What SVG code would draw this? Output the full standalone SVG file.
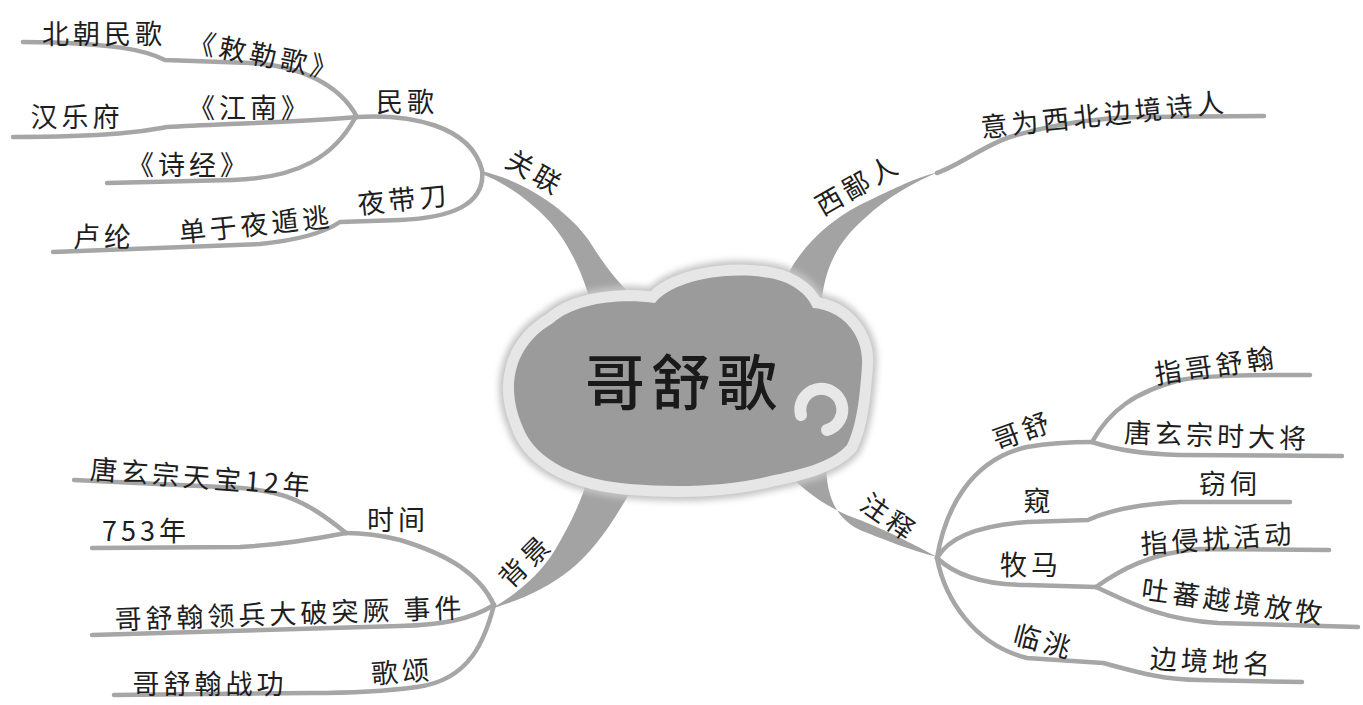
<svg xmlns="http://www.w3.org/2000/svg" width="1363" height="705" viewBox="0 0 1363 705">
<defs>
<style>
.t{font-family:"Noto Sans CJK SC","Noto Sans",sans-serif;font-size:27px;fill:#1e1e1e;letter-spacing:4px;text-anchor:middle;}
.ln{fill:none;stroke:#a6a6a6;stroke-width:4.5;stroke-linecap:round;stroke-linejoin:round;}
.br{fill:#a3a3a3;}
.title{font-family:"Noto Sans CJK SC","Noto Sans",sans-serif;font-size:60px;font-weight:500;fill:#1a1a1a;letter-spacing:6px;text-anchor:middle;}
</style>
<filter id="glow" x="-20%" y="-20%" width="140%" height="140%">
<feGaussianBlur stdDeviation="3"/>
</filter>
<path id="cloud" d="M522,425 C505,385 515,345 553,323 C575,303 620,298 655,303 C670,283 720,270 770,278 C795,283 808,296 813,308 C842,310 864,335 862,365 C860,395 857,425 847,445 C832,462 800,470 770,476 C730,486 680,488 630,484 C580,480 535,462 522,425 Z"/>
</defs>
<rect width="1363" height="705" fill="#ffffff"/>

<g id="connectors">
<path class="br" d="M482,171 C530,183 575,215 595,250 C608,270 620,285 637,300 L590,300 C583,275 570,245 550,222 C530,200 505,183 482,174 Z"/>
<path class="br" d="M780,292 C795,250 830,218 870,200 C895,188 915,178 938,172 C915,182 890,195 865,218 C840,240 827,262 822,297 Z"/>
<path class="br" d="M494,607 C515,595 540,575 555,550 C568,528 580,505 588,478 L638,478 C615,520 595,550 570,570 C548,588 520,600 494,608 Z"/>
<path class="br" d="M778,462 C800,490 830,510 860,520 C890,532 915,545 937,557 C910,550 885,540 860,530 C835,518 826,495 826,462 Z"/>
<path class="ln" d="M357,117 C340,85 300,65 250,63 L165,60 C145,50 115,43 23,42"/>
<path class="ln" d="M357,117 C300,122 220,124 167,127 C150,130 120,137 13,137"/>
<path class="ln" d="M355,118 C335,155 300,178 233,180 L107,183"/>
<path class="ln" d="M357,117 C410,114 470,125 482,170"/>
<path class="ln" d="M482,170 C486,205 450,218 400,220 L340,222 C325,232 300,240 260,244 L53,252"/>
<path class="ln" d="M937,173 C960,165 985,145 1010,137 C1050,125 1090,118 1140,117 L1264,116"/>
<path class="ln" d="M494,605 C480,575 450,555 400,540 C380,535 360,533 346,533"/>
<path class="ln" d="M346,533 C330,520 305,500 274,493 C250,488 230,487 221,487 L74,480"/>
<path class="ln" d="M346,533 C310,540 280,545 240,547 L92,548"/>
<path class="ln" d="M494,605 C470,620 440,625 400,626 L92,635"/>
<path class="ln" d="M494,605 C485,640 470,680 417,687 C380,692 340,693 310,693 L114,695"/>
<path class="ln" d="M937,558 C945,510 970,460 1027,447 C1050,443 1070,442 1092,442"/>
<path class="ln" d="M1092,442 C1110,410 1135,392 1180,380 C1210,375 1250,375 1310,375"/>
<path class="ln" d="M1092,442 C1110,448 1140,454 1180,455 L1342,456"/>
<path class="ln" d="M937,558 C950,535 985,525 1027,522 L1088,520 C1110,510 1140,504 1180,502 L1290,502"/>
<path class="ln" d="M937,558 C955,575 985,585 1027,585 L1096,587"/>
<path class="ln" d="M1096,587 C1120,570 1150,553 1199,549 L1329,550"/>
<path class="ln" d="M1096,587 C1125,600 1160,620 1218,623 L1358,627"/>
<path class="ln" d="M937,558 C945,600 975,645 1027,658 L1103,663 C1130,670 1160,680 1199,680 L1302,682"/>
</g>

<g id="center">
<use href="#cloud" fill="none" stroke="#c4c4c4" stroke-width="30" filter="url(#glow)"/>
<use href="#cloud" fill="#9b9b9b" stroke="#e6e6e6" stroke-width="22"/>
<use href="#cloud" fill="#9b9b9b"/>
<path d="M801,415 A21,21 0 1 1 827,430" fill="none" stroke="#e8e8e8" stroke-width="12" stroke-linecap="round"/>
<circle cx="815" cy="411" r="8" fill="#9b9b9b"/>
<text class="title" x="684" y="405">哥舒歌</text>
</g>

<g id="node-guanlian">
<text class="t" transform="translate(535,173) rotate(30)" dy="9.5">关联</text>
<text class="t" x="407" y="112">民歌</text>
<text class="t" x="104" y="44">北朝民歌</text>
<text class="t" transform="translate(265,56) rotate(11)" dy="9.5">《敕勒歌》</text>
<text class="t" x="77" y="127">汉乐府</text>
<text class="t" x="250" y="118">《江南》</text>
<text class="t" x="189" y="175">《诗经》</text>
<text class="t" transform="translate(404,200) rotate(-6)" dy="9.5">夜带刀</text>
<text class="t" x="104" y="247">卢纶</text>
<text class="t" transform="translate(256,225) rotate(-6)" dy="9.5">单于夜遁逃</text>
</g>

<g id="node-xibiren">
<text class="t" transform="translate(858,185) rotate(-30)" dy="9.5">西鄙人</text>
<text class="t" transform="translate(1104,115) rotate(-6)" dy="9.5">意为西北边境诗人</text>
</g>

<g id="node-beijing">
<text class="t" transform="translate(526,561) rotate(-45)" dy="9.5">背景</text>
<text class="t" x="398" y="530">时间</text>
<text class="t" transform="translate(202,478) rotate(4.5)" dy="9.5">唐玄宗天宝12年</text>
<text class="t" x="146" y="541">753年</text>
<text class="t" transform="translate(290,614) rotate(-2)" dy="9.5">哥舒翰领兵大破突厥 事件</text>
<text class="t" transform="translate(402,672) rotate(-4)" dy="9.5">歌颂</text>
<text class="t" x="210" y="694">哥舒翰战功</text>
</g>

<g id="node-zhushi">
<text class="t" transform="translate(889,518) rotate(35)" dy="9.5">注释</text>
<text class="t" transform="translate(1023,431) rotate(-20)" dy="9.5">哥舒</text>
<text class="t" transform="translate(1216,366) rotate(-8)" dy="9.5">指哥舒翰</text>
<text class="t" transform="translate(1217,436) rotate(2)" dy="9.5">唐玄宗时大将</text>
<text class="t" x="1039" y="511">窥</text>
<text class="t" x="1230" y="494">窃伺</text>
<text class="t" x="1031" y="575">牧马</text>
<text class="t" transform="translate(1218,539) rotate(-4)" dy="9.5">指侵扰活动</text>
<text class="t" transform="translate(1234,602) rotate(8)" dy="9.5">吐蕃越境放牧</text>
<text class="t" transform="translate(1044,642) rotate(15)" dy="9.5">临洮</text>
<text class="t" transform="translate(1212,662) rotate(3)" dy="9.5">边境地名</text>
</g>
</svg>
